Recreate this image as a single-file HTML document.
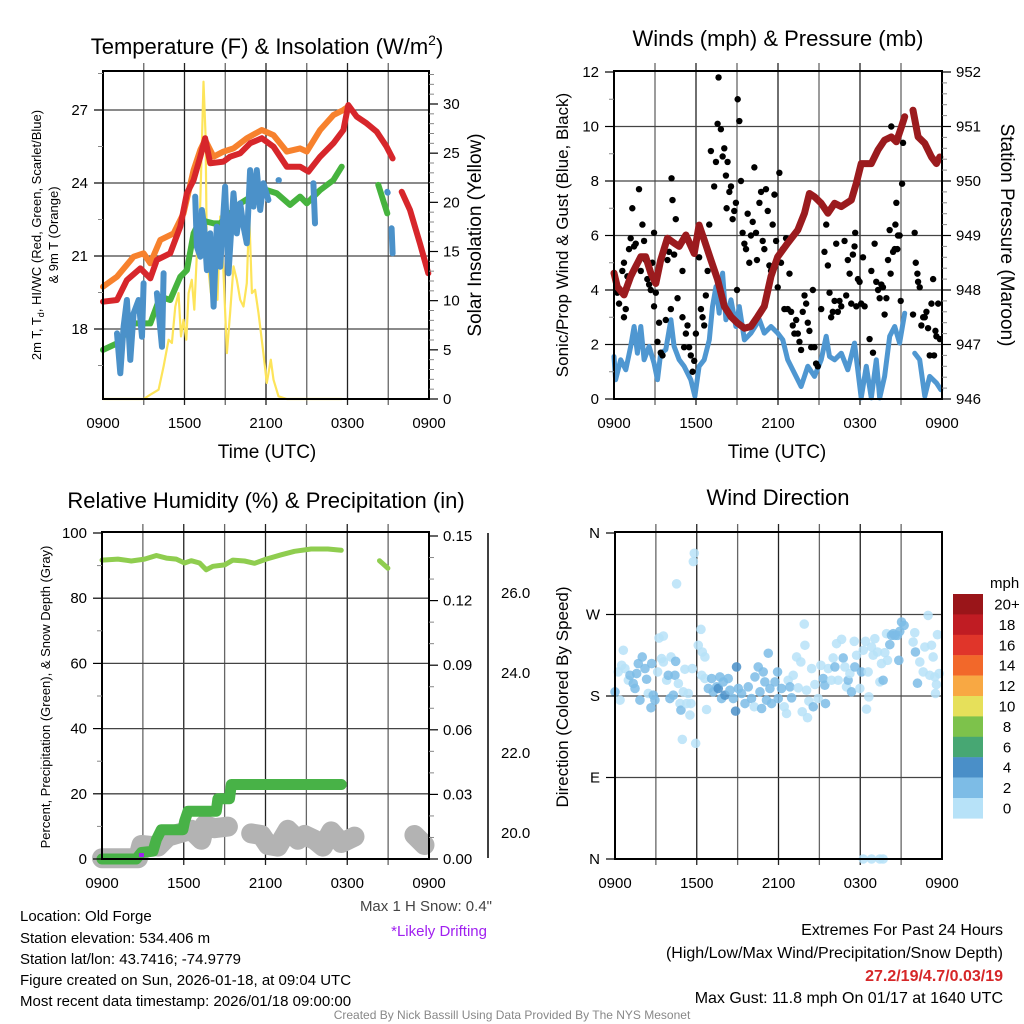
<!DOCTYPE html>
<html><head><meta charset="utf-8"><style>
html,body{margin:0;padding:0;background:#fff;}
svg{display:block;font-family:"Liberation Sans",Arial,sans-serif;}
</style></head><body>
<svg id="fig" width="1024" height="1024" viewBox="0 0 1024 1024" xmlns="http://www.w3.org/2000/svg">
<rect width="1024" height="1024" fill="#fff"/>
<g id="layer"></g>
<!-- titles -->
<text x="267" y="54" font-size="22" text-anchor="middle">Temperature (F) &amp; Insolation (W/m<tspan dy="-9" font-size="14">2</tspan><tspan dy="9">)</tspan></text>
<text x="778" y="46" font-size="22" text-anchor="middle">Winds (mph) &amp; Pressure (mb)</text>
<text x="266" y="508" font-size="22" text-anchor="middle">Relative Humidity (%) &amp; Precipitation (in)</text>
<text x="778" y="505" font-size="22" text-anchor="middle">Wind Direction</text>
<!-- axis titles -->
<text x="267" y="458" font-size="19" text-anchor="middle">Time (UTC)</text>
<text x="777" y="458" font-size="19" text-anchor="middle">Time (UTC)</text>
<text transform="translate(41,235) rotate(-90)" font-size="13" text-anchor="middle">2m T, T<tspan dy="3" font-size="9">d</tspan><tspan dy="-3">, HI/WC (Red, Green, Scarlet/Blue)</tspan></text>
<text transform="translate(58,235) rotate(-90)" font-size="13" text-anchor="middle">&amp; 9m T (Orange)</text>
<text transform="translate(481,235) rotate(-90)" font-size="19" text-anchor="middle">Solar Insolation (Yellow)</text>
<text transform="translate(568,235) rotate(-90)" font-size="17" text-anchor="middle">Sonic/Prop Wind &amp; Gust (Blue, Black)</text>
<text transform="translate(1001,235) rotate(90)" font-size="19" text-anchor="middle">Station Pressure (Maroon)</text>
<text transform="translate(50,697) rotate(-90)" font-size="13" text-anchor="middle">Percent, Precipitation (Green), &amp; Snow Depth (Gray)</text>
<text transform="translate(568,697) rotate(-90)" font-size="17" text-anchor="middle">Direction (Colored By Speed)</text>
<!-- annotations -->
<text x="492" y="911" font-size="15" fill="#444" text-anchor="end">Max 1 H Snow: 0.4"</text>
<text x="487" y="936" font-size="15" fill="#a020f0" text-anchor="end">*Likely Drifting</text>
<g font-size="15">
<text x="20" y="921">Location: Old Forge</text>
<text x="20" y="943">Station elevation: 534.406 m</text>
<text x="20" y="964">Station lat/lon: 43.7416; -74.9779</text>
<text x="20" y="985">Figure created on Sun, 2026-01-18, at 09:04 UTC</text>
<text x="20" y="1006">Most recent data timestamp: 2026/01/18 09:00:00</text>
</g>
<g font-size="16" text-anchor="end">
<text x="1003" y="935">Extremes For Past 24 Hours</text>
<text x="1003" y="958">(High/Low/Max Wind/Precipitation/Snow Depth)</text>
<text x="1003" y="981" font-weight="bold" fill="#d62728">27.2/19/4.7/0.03/19</text>
<text x="1003" y="1003">Max Gust: 11.8 mph On 01/17 at 1640 UTC</text>
</g>
<text x="512" y="1019" font-size="12" fill="#888" text-anchor="middle">Created By Nick Bassill Using Data Provided By The NYS Mesonet</text>
</svg>
<script>
// ---------- DATA ----------
const timeTickLabels = ["0900","1500","2100","0300","0900"];
// Panel 1 (hours since 0900)
const redHours = [0,1.03,1.76,2.75,3.48,3.97,4.95,5.69,6.18,6.67,7.16,7.52,7.89,8.87,9.36,10.1,10.83,11.69,12.55,13.53,14.51,15.12,15.98,16.96,17.7,18.06,18.68,19.41,20.15,20.88,21.32,null,21.99,22.6,23.33,23.95];
const redTemps = [19.12,19.19,20.01,20.49,20.08,20.84,21.11,22.21,23.58,24.12,25.08,25.84,24.81,24.88,25.08,25.22,25.63,25.84,25.49,24.67,24.67,24.47,25.08,25.63,26.18,27.2,26.73,26.45,26.11,25.49,25.01,null,23.64,22.89,21.52,20.29];
const orangeHours = [0,1.03,2.25,2.99,3.48,4.22,5.2,5.93,6.67,7.16,7.52,8.14,8.87,9.61,10.59,11.69,12.55,13.53,14.51,15.0,15.98,16.96,17.7,18.06];
const orangeTemps = [19.74,20.15,20.97,21.11,20.7,21.66,21.93,22.75,24.53,25.36,25.77,25.08,25.29,25.42,25.84,26.18,25.97,25.29,25.42,25.29,26.18,26.79,27.0,27.14];
const greenHours = [0,1.03,2.25,3.48,4.22,4.95,5.69,6.18,6.67,7.16,8.14,8.63,9.12,10.1,11.32,12.06,12.79,13.77,14.51,15.0,15.98,16.96,17.57,null,20.27,20.93];
const greenTemps = [17.14,17.41,18.23,18.23,19.33,19.19,20.15,20.42,21.93,22.48,22.34,22.34,22.62,23.16,23.58,23.71,23.58,23.1,23.44,23.16,23.71,24.12,24.67,null,23.92,22.75];
const blueHours = [1.03,1.27,1.52,1.76,2.01,2.25,2.62,2.87,2.99,null,3.97,4.34,4.46,null,6.79,6.91,7.16,7.28,7.45,7.65,7.89,8.14,8.38,8.63,8.99,9.24,9.61,9.85,10.1,10.34,10.59,10.83,11.08,11.32,11.57,11.81,12.18,null,12.92,12.95,null,15.49,15.61,null,20.93,20.96,null,21.25,21.32];
const blueTemps = [17.82,16.18,18.1,19.19,16.73,18.64,19.19,17.68,19.88,null,19.47,17.27,20.29,null,23.44,21.38,20.97,22.89,22.21,20.42,21.93,18.92,22.21,20.56,23.85,20.29,23.58,21.93,23.16,22.21,21.52,24.53,23.03,24.53,22.89,23.99,23.3,null,24.12,24.12,null,23.99,22.34,null,23.64,23.6,null,22.14,21.11];
const solarHours = [0,2.99,3.48,4.09,4.46,4.83,5.07,5.32,5.56,5.74,5.93,6.13,6.3,6.54,6.72,6.91,7.11,7.28,7.4,7.55,7.65,7.79,7.94,8.09,8.26,8.43,8.63,8.87,9.12,9.36,9.61,9.85,10.1,10.34,10.59,10.76,10.96,11.2,11.45,11.81,12.06,12.35,12.55,12.92,13.53,17.57];
const solarValues = [0,0,0.44,0.95,3.32,6.03,5.69,9.41,10.77,6.37,8.06,6.03,10.77,12.12,9.08,14.83,17.54,26.0,32.27,26.68,14.16,12.8,10.77,14.83,15.17,10.09,18.56,12.8,4.67,8.74,13.48,12.12,10.09,9.41,11.78,18.9,10.77,11.11,8.74,4.67,1.63,4.0,1.96,0.27,0,0];
const tempTicks = [18,21,24,27];
const solarTicks = [0,5,10,15,20,25,30];
// Panel 2
const pressureHours = [0,0.24,0.73,1.22,1.59,1.96,2.32,2.69,3.06,3.42,3.91,4.4,4.77,5.26,5.87,6.23,6.6,7.09,7.58,8.07,8.56,9.05,9.54,10.02,10.51,11.0,11.49,11.98,12.71,13.45,13.94,14.3,14.67,15.16,15.65,16.14,16.63,17.36,17.73,18.09,18.83,19.32,19.8,20.29,20.66,21.03,21.27,null,21.88,22.25,22.74,23.23,23.59,23.84];
const pressureValues = [948.31,948.06,947.91,948.25,948.43,948.61,948.61,948.31,948.12,948.55,948.95,948.86,948.8,949.01,948.67,949.19,948.92,948.55,948.19,947.7,947.51,947.39,947.3,947.33,947.51,947.7,948.25,948.61,948.86,949.1,949.41,949.77,949.71,949.59,949.41,949.59,949.53,949.65,949.96,950.32,950.32,950.57,950.75,950.81,950.72,950.99,951.18,null,951.3,950.81,950.69,950.44,950.32,950.44];
const windHours = [0,0.12,0.49,0.86,1.22,1.47,1.71,1.96,2.2,2.57,2.93,3.18,3.42,3.79,4.16,4.4,4.77,5.13,5.62,5.92,6.23,6.6,6.97,7.21,7.46,7.7,7.95,8.19,8.56,8.92,9.17,9.54,10.02,10.64,11.0,11.49,11.98,12.35,12.71,13.2,13.69,14.18,14.67,15.16,15.53,15.77,16.14,16.63,17.11,17.6,18.09,18.46,18.83,19.19,19.44,19.8,20.17,20.54,20.9,21.27,null,22.0,22.37,22.74,23.1,23.59,23.91];
const windSpeeds = [1.56,0.71,1.44,1.07,1.93,2.66,1.68,2.66,1.44,1.93,1.32,0.71,1.68,1.81,2.91,1.93,1.44,1.2,0.71,0.1,1.2,1.44,2.17,3.39,4.13,3.15,4.62,2.91,3.64,2.66,3.39,2.17,2.42,2.91,2.42,2.66,2.42,2.17,1.44,0.95,0.46,1.2,0.83,1.44,2.3,1.56,1.44,1.68,1.07,2.05,0.04,1.2,0.04,1.44,0.04,0.83,2.3,2.66,2.05,3.15,null,1.68,1.44,0.1,0.83,0.59,0.34];
const gustHours = [0,0.24,0.37,0.61,0.73,0.86,0.73,0.98,1.1,1.22,1.34,1.47,1.59,1.83,1.96,2.08,2.2,2.32,2.44,2.57,2.69,2.81,2.93,2.93,3.06,3.18,3.3,3.42,3.55,3.79,3.91,4.03,4.16,4.21,4.28,4.4,4.52,4.65,5.01,5.01,5.13,5.26,5.38,5.5,5.62,5.75,5.87,5.99,6.23,6.36,6.48,6.6,6.72,6.85,6.97,7.09,7.33,7.46,7.58,7.65,7.82,7.95,8.07,8.19,8.24,8.31,8.44,8.56,8.68,8.8,8.92,9.0,9.05,9.17,9.29,9.41,9.54,9.66,9.78,9.9,10.02,10.15,10.27,10.39,10.46,10.64,10.76,10.88,11.0,11.12,11.25,11.37,11.49,11.61,11.74,11.86,11.98,12.1,12.22,12.35,12.47,12.59,12.71,12.84,12.96,13.08,13.2,13.33,13.45,13.57,13.69,13.81,13.94,14.06,14.18,14.3,14.43,14.55,14.67,14.79,14.91,15.16,15.4,15.53,15.65,15.77,15.89,16.01,16.14,16.26,16.38,16.5,16.63,16.87,16.99,17.11,17.24,17.36,17.48,17.6,17.65,17.73,17.85,17.97,18.09,18.22,18.34,18.7,18.83,18.95,19.07,19.19,19.32,19.44,19.56,19.68,19.8,19.93,20.05,20.17,20.24,20.29,20.42,20.54,20.59,20.66,20.73,20.78,20.9,20.98,21.08,21.15,21.88,22.0,22.08,22.2,22.25,22.37,22.49,22.62,22.74,22.86,22.98,23.1,23.23,23.35,23.42,23.52,23.59,23.72,23.84];
const gustSpeeds = [4.6,3.9,3.5,4.7,5.0,3.3,3.0,4.5,5.5,5.9,7.0,5.6,5.7,7.7,4.7,6.4,5.8,5.1,4.4,4.2,4.0,5.0,6.1,3.4,3.9,2.1,2.8,1.7,1.6,2.9,5.1,5.4,3.3,8.1,7.3,5.3,6.6,3.7,4.7,3.0,1.9,2.4,2.7,1.9,1.6,1.0,1.4,2.4,5.2,3.3,3.0,2.7,3.8,4.7,6.4,9.1,7.8,8.7,10.1,11.8,9.9,8.9,9.2,8.2,7.0,8.7,7.6,7.8,6.6,6.9,7.2,4.0,11.0,10.2,8.0,6.1,5.7,5.5,6.8,5.0,6.0,6.5,8.5,6.1,5.1,7.2,7.6,5.8,5.5,7.7,6.9,4.9,4.7,6.4,7.5,5.8,4.1,8.3,5.0,5.5,3.3,5.9,3.3,4.6,3.2,2.7,2.4,2.9,2.4,2.1,1.8,3.2,3.8,3.5,2.8,2.5,1.9,4.0,1.9,1.3,1.2,3.3,5.4,6.4,4.9,3.9,3.0,3.2,3.6,5.7,3.2,3.6,3.4,5.8,3.8,5.1,4.6,3.5,5.3,5.6,6.1,3.4,4.4,4.3,3.5,5.2,3.4,2.2,4.7,1.7,5.7,4.3,4.0,3.7,4.2,4.1,3.1,3.7,5.1,6.2,4.6,10.0,5.4,5.5,6.4,7.2,5.5,6.0,6.0,3.6,7.9,9.4,3.1,6.1,5.0,4.6,4.3,4.1,2.7,3.0,3.0,3.2,2.6,1.6,3.5,4.4,1.6,2.5,2.3,3.5,2.2];
const windTicks = [0,2,4,6,8,10,12];
const pressureTicks = [946,947,948,949,950,951,952];
// Panel 3
const rhHours = [0,1.17,2.15,3.13,3.99,4.72,5.45,6.06,6.55,7.16,7.65,8.14,9.0,9.61,10.46,11.2,12.05,13.15,14.13,15.35,16.58,17.56,null,20.37,20.98];
const rhValues = [91.7,92.0,91.4,92.0,93.1,92.3,92.0,90.8,91.5,90.8,88.7,89.8,90.2,91.7,91.4,90.7,92.0,93.3,94.4,95.1,95.1,94.7,null,91.5,89.2];
const precipHours = [0,2.52,2.89,3.74,3.99,4.35,5.94,6.06,6.31,8.39,8.51,9.36,9.49,17.56];
const precipValues = [0,0,0.003,0.0036,0.009,0.0136,0.0136,0.0175,0.0222,0.0222,0.028,0.028,0.0346,0.0346];
const snowHours = [0,2.64,2.89,4.11,4.84,6.55,7.29,7.53,8.26,9.24,null,10.95,11.69,12.18,12.91,13.64,14.38,14.87,15.6,16.21,16.82,17.56,18.53,null,22.93,23.67];
const snowDepths = [19.37,19.37,19.7,19.66,19.91,20.08,19.83,20.2,20.12,20.16,null,19.99,19.95,19.7,19.66,20.08,19.83,19.95,19.83,19.66,20.04,19.75,19.91,null,19.95,19.7];
const rhTicks = [0,20,40,60,80,100];
const precipTicks = [0,0.03,0.06,0.09,0.12,0.15];
const precipTickLabels = ["0.00","0.03","0.06","0.09","0.12","0.15"];
const snowTicks = [20,22,24,26];
const snowTickLabels = ["20.0","22.0","24.0","26.0"];
// Panel 4
const dirHours = [0,0.37,0.61,0.24,0.49,0.73,0.98,1.1,1.34,1.47,1.59,1.71,1.83,2.0,2.2,2.32,2.44,2.64,2.69,2.81,2.93,3.13,3.23,3.55,3.42,3.55,3.79,3.91,4.03,4.11,4.28,4.4,4.45,4.52,4.65,4.77,4.84,5.01,5.13,5.26,5.38,5.5,5.57,5.67,5.75,5.82,4.94,5.92,6.11,6.31,6.41,6.6,6.36,6.6,6.72,6.85,7.09,7.21,7.46,7.58,7.7,7.82,7.95,8.07,8.31,8.44,8.68,8.85,8.92,9.05,9.29,9.54,9.78,10.02,10.22,10.27,10.51,10.64,10.76,10.88,11.0,11.12,11.25,11.37,11.49,11.74,11.93,11.98,12.22,12.42,12.59,12.71,12.84,12.96,13.08,13.33,13.45,13.64,13.74,13.89,13.94,14.06,14.13,14.23,14.43,14.55,14.67,14.91,15.11,15.28,15.4,15.45,15.65,15.89,16.01,16.14,16.26,16.38,16.63,16.75,16.87,16.99,17.11,17.24,17.36,17.56,17.6,17.73,17.97,18.09,18.22,18.39,18.46,18.58,18.63,18.83,18.95,19.07,19.27,19.44,19.56,19.68,19.8,19.93,20.0,20.17,20.29,20.42,20.54,20.73,20.83,20.9,21.03,21.22,21.88,22.0,22.05,22.2,22.37,22.62,22.74,22.98,23.1,23.23,23.35,23.47,23.59,23.67,23.79,23.52,18.22,18.83,19.44,19.68];
const dirDegrees = [184.6,175.4,230.5,206.6,213.9,210.3,197.4,202.9,193.8,188.3,204.8,215.8,175.4,223.1,210.3,198.5,182.8,167.0,215.8,180.9,175.4,206.6,244.0,246.2,221.3,217.6,197.4,202.9,177.2,223.1,180.9,202.9,218.3,303.9,193.8,171.7,164.4,184.6,209.5,171.7,182.8,158.9,171.7,210.3,328.4,337.6,132.1,127.7,236.0,253.6,228.6,223.1,202.9,199.3,165.1,188.3,199.3,184.6,190.1,188.3,201.1,177.2,195.6,180.9,199.3,186.4,177.2,163.3,212.1,188.3,182.8,171.7,190.1,177.2,168.1,201.1,212.1,184.6,166.2,206.6,195.6,175.4,227.2,188.3,171.7,195.6,206.6,177.2,188.3,168.1,160.7,197.4,190.1,178.0,202.9,223.1,189.0,217.6,162.6,259.4,236.0,186.4,156.0,174.3,210.3,168.1,192.7,177.2,213.9,199.3,191.9,171.7,210.3,197.4,222.0,212.1,237.8,197.4,242.6,222.0,212.1,190.1,197.4,204.8,184.6,240.4,212.1,225.0,188.3,206.6,230.5,240.4,165.5,206.6,179.1,234.1,225.0,243.3,228.6,195.6,215.8,197.4,227.9,248.8,219.4,236.7,247.0,248.8,247.0,247.0,219.4,251.4,261.7,258.0,239.6,249.9,228.6,194.1,217.6,206.6,234.1,269.0,202.9,236.0,223.1,201.1,192.7,247.7,204.8,182.8,0,0,0,0];
const dirSpeeds = [3,1,1,1,1,1,1,3,3,3,3,3,3,3,3,3,1,3,3,3,3,1,1,1,1,1,1,3,3,1,3,3,3,1,1,1,3,1,1,1,1,1,1,1,1,1,1,1,1,1,1,1,1,1,1,3,3,3,3,5,3,3,3,5,3,3,3,5,5,3,3,3,3,3,1,3,3,3,3,3,3,3,3,3,3,3,3,3,3,1,1,1,3,3,1,1,1,1,1,1,1,1,1,1,1,3,1,1,1,3,3,3,1,1,1,3,1,1,1,3,1,1,3,1,3,1,3,1,1,3,1,1,1,1,1,1,1,1,1,1,1,3,1,1,1,3,3,3,3,3,3,3,3,3,1,1,3,3,1,1,1,1,1,1,1,1,1,1,1,1,1,1,1,1];
const dirTickLabels = ["N","E","S","W","N"];
const dirTicks = [0,90,180,270,360];
const colorbarLabels = ["20+","18","16","14","12","10","8","6","4","2","0"];
const colorbarColors = ["#9a1519","#c01c23","#e0352a","#f2682a","#f8a843","#e6e05a","#7dc24b","#47a773","#4a8fc8","#7dbce6","#b7e2f8"];

// ---------- DRAWING ----------
const NS = "http://www.w3.org/2000/svg";
const layer = document.getElementById("layer");
function el(tag, parent){ const e=document.createElementNS(NS,tag); (parent||layer).appendChild(e); return e; }
function lin(d0,d1,r0,r1){ return v => r0 + (v-d0)/(d1-d0)*(r1-r0); }

const P = {
  t:{x0:103,x1:429,y0:71,y1:399},
  w:{x0:614,x1:942,y0:71,y1:399},
  h:{x0:102,x1:429,y0:532,y1:859},
  d:{x0:615,x1:942,y0:532,y1:859}
};
function pathFrom(xs,ys,fx,fy){
  let d="",pen=false;
  for(let i=0;i<xs.length;i++){
    if(xs[i]===null||ys[i]===null){pen=false;continue;}
    d+=(pen?"L":"M")+fx(xs[i]).toFixed(1)+","+fy(ys[i]).toFixed(1);
    pen=true;
  }
  return d;
}
function drawFrame(p, name){
  const g=el("g");
  
  
  const fx=lin(0,24,p.x0,p.x1);
  for(let h=3;h<24;h+=3){
    const l=el("line",g);
    l.setAttribute("x1",fx(h));l.setAttribute("x2",fx(h));l.setAttribute("y1",p.y0-8);l.setAttribute("y2",p.y1+6);
    l.setAttribute("stroke",h%6===0?"#222":"#666");l.setAttribute("stroke-width","1.3");
  }
  for(let i=0;i<timeTickLabels.length;i++){
    const t=el("text",g);
    t.setAttribute("x",fx(i*6));t.setAttribute("y",p.y1+29);t.setAttribute("font-size","15");t.setAttribute("text-anchor","middle");
    t.textContent=timeTickLabels[i];
    
    
  }
  return fx;
}
function hgrid(p,y){ const l=el("line"); l.setAttribute("x1",p.x0);l.setAttribute("x2",p.x1);l.setAttribute("y1",y);l.setAttribute("y2",y);l.setAttribute("stroke","#444");l.setAttribute("stroke-width","1.3"); }
function border(p,name){
  const r=el("rect");
  r.setAttribute("x",p.x0);r.setAttribute("y",p.y0);r.setAttribute("width",p.x1-p.x0);r.setAttribute("height",p.y1-p.y0);
  r.setAttribute("fill","none");r.setAttribute("stroke","#000");r.setAttribute("stroke-width","2");
  
  
}
function yTicks(p,ticks,labels,fy,side,minor){
  for(let i=0;i<ticks.length;i++){
    const y=fy(ticks[i]);
    const l=el("line");
    const x=side==="left"?p.x0:p.x1;
    l.setAttribute("x1",x);l.setAttribute("x2",side==="left"?x-9:x+9);l.setAttribute("y1",y);l.setAttribute("y2",y);l.setAttribute("stroke","#000");l.setAttribute("stroke-width","1.2");
    const t=el("text");
    t.setAttribute("x",side==="left"?x-15:x+14);t.setAttribute("y",y+5);t.setAttribute("font-size","15");
    t.setAttribute("text-anchor",side==="left"?"end":"start");
    t.textContent=labels[i];
    
    
  }
  if(minor){
    for(const v of minor){
      const y=fy(v); const x=side==="left"?p.x0:p.x1;
      const l=el("line");
      l.setAttribute("x1",x);l.setAttribute("x2",side==="left"?x-5:x+5);l.setAttribute("y1",y);l.setAttribute("y2",y);l.setAttribute("stroke","#888");l.setAttribute("stroke-width","1");
    }
  }
}
function polyline(d,color,w,name,op){
  const pa=el("path");
  pa.setAttribute("d",d);pa.setAttribute("fill","none");pa.setAttribute("stroke",color);pa.setAttribute("stroke-width",w);
  pa.setAttribute("stroke-linecap","round");pa.setAttribute("stroke-linejoin","round");
  if(op) pa.setAttribute("opacity",op);
  
  
  return pa;
}

// ----- Panel 1 -----
(function(){
  const p=P.t; const fx=drawFrame(p,"temperature");
  const fy=lin(27,18,110,329); const fs=lin(0,30,399,104);
  tempTicks.forEach(v=>hgrid(p,fy(v)));
  polyline(pathFrom(solarHours,solarValues,fx,fs),"#fde45a",2.2,"solar-insolation-line");
  polyline(pathFrom(orangeHours,orangeTemps,fx,fy),"#f7812d",6,"temperature-9m-line");
  polyline(pathFrom(redHours,redTemps,fx,fy),"#d7262b",6,"temperature-2m-line");
  polyline(pathFrom(greenHours,greenTemps,fx,fy),"#46b33e",6,"dewpoint-line");
  polyline(pathFrom(blueHours,blueTemps,fx,fy),"#4b91c9",6,"wind-chill-line");
  border(p,"temperature");
  yTicks(p,tempTicks,tempTicks.map(String),fy,"left",[16.5,19.5,22.5,25.5,28.5]);
  yTicks(p,solarTicks,solarTicks.map(String),fs,"right",[1,2,3,4,6,7,8,9,11,12,13,14,16,17,18,19,21,22,23,24,26,27,28,29,31,32,33]);
})();
// ----- Panel 2 -----
(function(){
  const p=P.w; const fx=drawFrame(p,"winds");
  const fy=lin(0,12,399,72); const fp=lin(946,952,399,72);
  windTicks.slice(1,-1).forEach(v=>hgrid(p,fy(v)));
  polyline(pathFrom(windHours,windSpeeds,fx,fy),"#4f97d1",5,"wind-speed-line");
  for(let i=0;i<gustHours.length;i++){
    const c=el("circle");
    c.setAttribute("cx",fx(gustHours[i]));c.setAttribute("cy",fy(gustSpeeds[i]));c.setAttribute("r","3.2");c.setAttribute("fill","#000");
    
    
  }
  polyline(pathFrom(pressureHours,pressureValues,fx,fp),"#9b1b1e",7,"pressure-line");
  border(p,"winds");
  yTicks(p,windTicks,windTicks.map(String),fy,"left",[1,3,5,7,9,11]);
  yTicks(p,pressureTicks,pressureTicks.map(String),fp,"right",[946.2,946.4,946.6,946.8,947.2,947.4,947.6,947.8,948.2,948.4,948.6,948.8,949.2,949.4,949.6,949.8,950.2,950.4,950.6,950.8,951.2,951.4,951.6,951.8]);
})();
// ----- Panel 3 -----
(function(){
  const p=P.h; const fx=drawFrame(p,"humidity");
  const fy=lin(0,100,859,533); const fpr=lin(0,0.15,859,536); const fsn=lin(20,26,833,593);
  rhTicks.slice(1,-1).forEach(v=>hgrid(p,fy(v)));
  polyline(pathFrom(snowHours,snowDepths,fx,fsn),"#b3b3b3",20,"snow-depth-line");
  polyline(pathFrom(precipHours,precipValues,fx,fpr),"#48b247",11,"precipitation-line");
  polyline(pathFrom(rhHours,rhValues,fx,fy),"#8fcd4f",5,"relative-humidity-line");
  border(p,"humidity");
  yTicks(p,rhTicks,rhTicks.map(String),fy,"left",[10,30,50,70,90]);
  yTicks(p,precipTicks,precipTickLabels,fpr,"right",[0.01,0.02,0.04,0.05,0.07,0.08,0.1,0.11,0.13,0.14]);
  const ax=el("line"); ax.setAttribute("x1",488);ax.setAttribute("x2",488);ax.setAttribute("y1",533);ax.setAttribute("y2",858);ax.setAttribute("stroke","#000");ax.setAttribute("stroke-width","1.5");
  
  
  for(let i=0;i<snowTicks.length;i++){
    const y=fsn(snowTicks[i]);
    const t=el("text"); t.setAttribute("x",501);t.setAttribute("y",y+5);t.setAttribute("font-size","15");t.textContent=snowTickLabels[i];
    
    
  }
  const pm=el("rect"); pm.setAttribute("x",fx(2.93)-3);pm.setAttribute("y",fy(0.9)-3);pm.setAttribute("width",5);pm.setAttribute("height",4);pm.setAttribute("fill","#a020f0");
})();
// ----- Panel 4 -----
(function(){
  const p=P.d; const fx=drawFrame(p,"direction");
  const fy=lin(0,360,859,533);
  [90,180,270].forEach(v=>hgrid(p,fy(v)));
  function spdColor(s){ const idx=10-Math.min(10,Math.floor(s/2)); return colorbarColors[idx]; }
  for(let i=0;i<dirHours.length;i++){
    const c=el("circle");
    c.setAttribute("cx",fx(dirHours[i]));c.setAttribute("cy",fy(dirDegrees[i]));c.setAttribute("r","4.8");
    c.setAttribute("fill",spdColor(dirSpeeds[i]));c.setAttribute("opacity","0.85");
    
    
  }
  border(p,"direction");
  yTicks(p,dirTicks,dirTickLabels,fy,"left",null);
  const t=el("text"); t.setAttribute("x",990);t.setAttribute("y",588);t.setAttribute("font-size","15");t.textContent="mph";
  
  
  for(let i=0;i<colorbarLabels.length;i++){
    const r=el("rect"); r.setAttribute("x",953);r.setAttribute("y",594+i*20.4);r.setAttribute("width",30);r.setAttribute("height",20.6);r.setAttribute("fill",colorbarColors[i]);
    
    
    const l=el("text"); l.setAttribute("x",1007);l.setAttribute("y",594+i*20.4+15.5);l.setAttribute("font-size","15");l.setAttribute("text-anchor","middle");l.textContent=colorbarLabels[i];
    
    
  }
})();
</script>
</body></html>
